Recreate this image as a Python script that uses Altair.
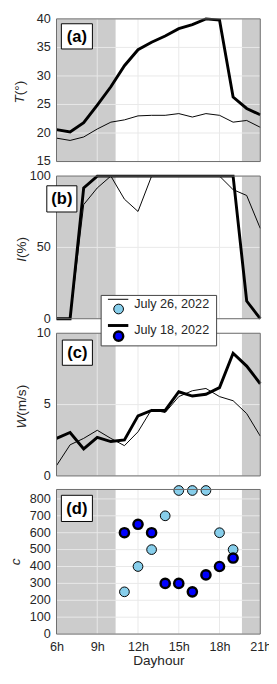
import altair as alt
import pandas as pd

# ---------------- data ----------------
hours = list(range(6, 22))
T_jul18 = [20.6, 20.2, 21.8, 24.9, 28.1, 31.8, 34.6, 35.9, 37.0, 38.3, 39.0, 40.0, 39.8, 26.3, 24.3, 23.2]
T_jul26 = [19.1, 18.7, 19.3, 20.7, 21.9, 22.3, 23.0, 23.1, 23.1, 23.4, 22.8, 23.4, 23.1, 21.9, 22.2, 21.0]
I_jul18 = [0, 0, 91.7, 100, 100, 100, 100, 100, 100, 100, 100, 100, 100, 100, 12.4, 0]
I_jul26 = [0, 0, 80.0, 91.7, 100, 83.8, 75.2, 100, 100, 100, 100, 100, 100, 90.5, 86.4, 63.3]
W_jul18 = [2.63, 3.04, 1.89, 2.70, 2.41, 2.52, 4.21, 4.59, 4.59, 5.90, 5.60, 5.72, 6.19, 8.60, 7.70, 6.46]
W_jul26 = [0.72, 2.18, 2.63, 3.20, 2.63, 2.12, 3.09, 4.66, 4.44, 5.56, 5.97, 6.13, 5.56, 5.27, 4.37, 2.79]

c_hours = [11, 12, 13, 14, 15, 16, 17, 18, 19]
c_jul26 = [250, 400, 500, 700, 850, 850, 850, 600, 500]
c_jul18 = [600, 650, 600, 300, 300, 250, 350, 400, 450]

night_start = [6, 19.65]
night_end = [10.35, 21]

x_ticks = [6, 9, 12, 15, 18, 21]
x_grid = [9, 12, 15, 18]
T_ticks = [15, 20, 25, 30, 35, 40]
I_ticks = [0, 50, 100]
W_ticks = [0, 5, 10]
c_ticks = [0, 100, 200, 300, 400, 500, 600, 700, 800]

labels = ["(a)", "(b)", "(c)", "(d)"]
legend_names = ["July 26, 2022", "July 18, 2022"]

# ---------------- style / layout ----------------
PW, PH = 210, 634
FONT = "Liberation Sans, Arial, Helvetica, sans-serif"
INK = "#262626"
SHADE = "#cccccc"
GRIDC = "#e8e8e8"
FRAME = "#6a6a6a"
LIGHT = "#87ceeb"
DARK = "#0000ff"

XA = alt.Axis(values=x_ticks, labelExpr="datum.value + 'h'", title="Dayhour",
              grid=False, ticks=False, tickSize=0, domain=False,
              labelFont=FONT, labelFontSize=13, labelColor=INK, labelPadding=7,
              labelFlush=False, labelOverlap=False,
              titleFont=FONT, titleFontSize=14, titleFontWeight="normal",
              titleColor=INK, titlePadding=0)
xscale = alt.Scale(domain=[6, 21], nice=False, zero=False)


def X(f):
    return alt.X(f, scale=xscale, axis=XA)


def panel(top, bottom, ydomain, yticks, label, box_xy, title_it, title_rest,
          title_x, title_y0, body_layers):
    lo, hi = ydomain
    ys = alt.Scale(domain=[lo, hi], range=[bottom, top], nice=False, zero=False)

    def Y(f):
        return alt.Y(f, scale=ys, axis=None)

    night = pd.DataFrame({"s": night_start, "e": night_end, "y0": [lo, lo], "y1": [hi, hi]})
    shade = alt.Chart(night).mark_rect(color=SHADE).encode(
        x=X("s:Q"), x2="e:Q", y=Y("y1:Q"), y2="y0:Q")
    gxd = pd.DataFrame({"v": x_grid, "y0": lo, "y1": hi})
    gx = alt.Chart(gxd).mark_rule(color=GRIDC, strokeWidth=1).encode(
        x=X("v:Q"), y=Y("y1:Q"), y2="y0:Q")
    gyd = pd.DataFrame({"v": yticks, "x0": 6, "x1": 21})
    gy = alt.Chart(gyd).mark_rule(color=GRIDC, strokeWidth=1).encode(
        y=Y("v:Q"), x=X("x0:Q"), x2="x1:Q")
    tl = pd.DataFrame({"v": yticks, "lab": [str(t) for t in yticks]})
    ticklab = alt.Chart(tl).mark_text(font=FONT, fontSize=13, color=INK, align="right",
                                      baseline="middle").encode(
        y=Y("v:Q"), x=alt.value(-6), text="lab:N")

    fr = pd.DataFrame({"x0": [6], "x1": [21], "y0": [lo], "y1": [hi]})
    frame = alt.Chart(fr).mark_rect(filled=False, stroke=FRAME, strokeWidth=1).encode(
        x=X("x0:Q"), x2="x1:Q", y=Y("y1:Q"), y2="y0:Q")

    bx0, bx1, by0, by1 = box_xy
    one = pd.DataFrame({"t": [label]})
    box = alt.Chart(one).mark_rect(fill="white", stroke="black", strokeWidth=1).encode(
        x=alt.value(bx0), x2=alt.value(bx1), y=alt.value(by0), y2=alt.value(by1))
    btxt = alt.Chart(one).mark_text(font=FONT, fontSize=17, fontWeight="bold", color="black",
                                    baseline="middle", align="center").encode(
        x=alt.value((bx0 + bx1) / 2), y=alt.value((by0 + by1) / 2 + 0.5), text="t:N")

    if title_rest:
        titles = [
            alt.Chart(pd.DataFrame({"t": [title_it]})).mark_text(
                font=FONT, fontSize=14, fontStyle="italic", color=INK, angle=270,
                align="right", baseline="middle").encode(
                x=alt.value(title_x), y=alt.value(title_y0), text="t:N"),
            alt.Chart(pd.DataFrame({"t": [title_rest]})).mark_text(
                font=FONT, fontSize=14, color=INK, angle=270,
                align="left", baseline="middle").encode(
                x=alt.value(title_x), y=alt.value(title_y0), text="t:N"),
        ]
    else:
        titles = [alt.Chart(pd.DataFrame({"t": [title_it]})).mark_text(
            font=FONT, fontSize=14, fontStyle="italic", color=INK, angle=270,
            align="center", baseline="middle").encode(
            x=alt.value(title_x), y=alt.value(title_y0), text="t:N")]

    layers = [shade, gx, gy] + [b(Y) for b in body_layers] + [frame, ticklab, box, btxt] + titles
    return alt.layer(*layers)


def line_layers(v26, v18):
    df = pd.DataFrame({"h": hours, "v26": v26, "v18": v18})

    def thin(Y):
        return alt.Chart(df).mark_line(color="black", strokeWidth=1).encode(
            x=X("h:Q"), y=Y("v26:Q"))

    def thick(Y):
        return alt.Chart(df).mark_line(color="black", strokeWidth=3).encode(
            x=X("h:Q"), y=Y("v18:Q"))
    return [thin, thick]


def point_layers():
    df = pd.DataFrame({"h": c_hours, "v26": c_jul26, "v18": c_jul18})

    def light(Y):
        return alt.Chart(df).mark_point(shape="circle", filled=True, fill=LIGHT, stroke="black",
                                        strokeWidth=1, size=100, opacity=1).encode(
            x=X("h:Q"), y=Y("v26:Q"))

    def dark(Y):
        return alt.Chart(df).mark_point(shape="circle", filled=True, fill=DARK, stroke="black",
                                        strokeWidth=2.5, size=90, opacity=1).encode(
            x=X("h:Q"), y=Y("v18:Q"))
    return [light, dark]


def legend_layer():
    d0 = pd.DataFrame({"t": [legend_names[0]]})
    d1 = pd.DataFrame({"t": [legend_names[1]]})
    lbox = alt.Chart(d0).mark_rect(fill="white", stroke="#404040", strokeWidth=1).encode(
        x=alt.value(46), x2=alt.value(165), y=alt.value(285), y2=alt.value(337))
    l1 = alt.Chart(d0).mark_rule(color="black", strokeWidth=1).encode(
        x=alt.value(53), x2=alt.value(74), y=alt.value(289))
    p1 = alt.Chart(d0).mark_point(shape="circle", filled=True, fill=LIGHT, stroke="black",
                                  strokeWidth=1, size=100, opacity=1).encode(
        x=alt.value(64), y=alt.value(299))
    tx1 = alt.Chart(d0).mark_text(font=FONT, fontSize=13, color=INK, align="left",
                                  baseline="alphabetic").encode(
        x=alt.value(80), y=alt.value(298), text="t:N")
    l2 = alt.Chart(d1).mark_rule(color="black", strokeWidth=3).encode(
        x=alt.value(53), x2=alt.value(74), y=alt.value(316))
    p2 = alt.Chart(d1).mark_point(shape="circle", filled=True, fill=DARK, stroke="black",
                                  strokeWidth=2.5, size=90, opacity=1).encode(
        x=alt.value(64), y=alt.value(327))
    tx2 = alt.Chart(d1).mark_text(font=FONT, fontSize=13, color=INK, align="left",
                                  baseline="alphabetic").encode(
        x=alt.value(80), y=alt.value(325), text="t:N")
    return alt.layer(lbox, l1, p1, tx1, l2, p2, tx2)


pa = panel(0, 147, [15, 40], T_ticks, labels[0], (5, 37, 5, 31),
           "T", " (°)", -38, 78.6, line_layers(T_jul26, T_jul18))
pb = panel(162, 309, [0, 100], I_ticks, labels[1], (-10, 21, 172, 199),
           "I", " (%)", -35, 246.4, line_layers(I_jul26, I_jul18))
pc = panel(324, 471, [0, 10], W_ticks, labels[2], (6, 37, 331, 357),
           "W", " (m/s)", -35, 409.0, line_layers(W_jul26, W_jul18))
pd_ = panel(485, 634, [0, 856], c_ticks, labels[3], (5, 37, 491, 518),
            "c", "", -42, 559.5, point_layers())

chart = alt.layer(pa, pb, pc, pd_, legend_layer()).resolve_scale(
    y="independent"
).properties(
    width=PW, height=PH, autosize=alt.AutoSizeParams(type="none")
).configure(
    padding={"left": 50, "top": 1, "right": 9, "bottom": 33},
    background="white",
).configure_view(stroke=None)

chart.save("out.html", embed_options={"renderer": "svg", "actions": False})
